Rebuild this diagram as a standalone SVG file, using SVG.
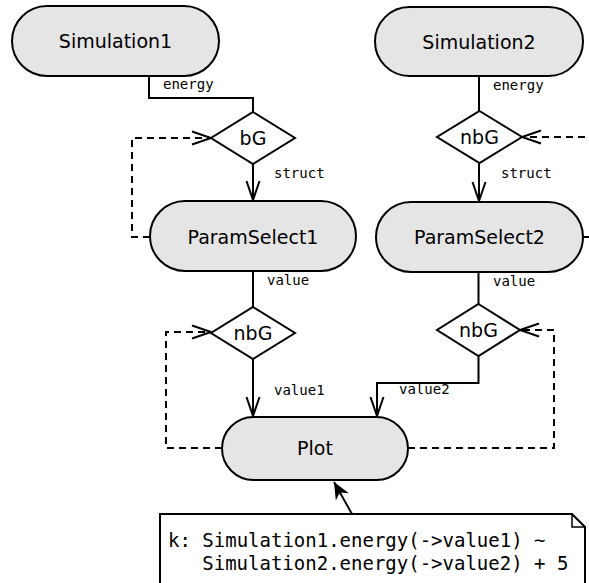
<svg xmlns="http://www.w3.org/2000/svg" width="589" height="583" viewBox="0 0 589 583">
<style>
.node{fill:#e5e5e5;stroke:#000;stroke-width:2}
.dia{fill:#fff;stroke:#000;stroke-width:2}
.lbl{font-family:"DejaVu Sans",sans-serif;font-size:19px;text-anchor:middle;fill:#000}
.el{font-family:"DejaVu Sans Mono",monospace;font-size:14px;fill:#000}
.nt{font-family:"DejaVu Sans Mono",monospace;font-size:19px;fill:#000}
.c{fill:none;stroke:#000;stroke-width:2}
.d{fill:none;stroke:#000;stroke-width:2;stroke-dasharray:7,5}
</style>
<defs>
<marker id="open" markerUnits="userSpaceOnUse" orient="auto" overflow="visible" markerWidth="1" markerHeight="1" refX="0" refY="0">
<path d="M-19,-6.5 L0,0 L-19,6.5" fill="none" stroke="#000" stroke-width="2" stroke-dasharray="none"/>
</marker>
<marker id="fill" markerUnits="userSpaceOnUse" orient="auto" overflow="visible" markerWidth="1" markerHeight="1" refX="0" refY="0">
<path d="M0,0 L-17,-7.5 L-12,0 L-17,7.5 Z" fill="#000" stroke="none"/>
</marker>
</defs>
<g id="connectors">
<path class="c" d="M149,76 V98 H253 V112"/>
<path class="c" d="M253,164 V200" marker-end="url(#open)"/>
<path class="c" d="M479,76 V111"/>
<path class="c" d="M479,162 V201" marker-end="url(#open)"/>
<path class="c" d="M253,271 V307"/>
<path class="c" d="M253,359 V416" marker-end="url(#open)"/>
<path class="c" d="M478.5,272 V304"/>
<path class="c" d="M478.5,356 V383 H377 V416" marker-end="url(#open)"/>
<path class="d" d="M150,237 H132 V138 H211" marker-end="url(#open)"/>
<path class="d" d="M583,237 H600 V137 H522" marker-end="url(#open)"/>
<path class="d" d="M222,448 H166 V332 H211" marker-end="url(#open)"/>
<path class="d" d="M408,448 H554 V330 H520" marker-end="url(#open)"/>
<path class="c" d="M352,514 L334,482" marker-end="url(#fill)"/>
<text class="el" x="163" y="89">energy</text>
<text class="el" x="493" y="90">energy</text>
<text class="el" x="274" y="178">struct</text>
<text class="el" x="501" y="178">struct</text>
<text class="el" x="267" y="285">value</text>
<text class="el" x="493" y="286">value</text>
<text class="el" x="274" y="395">value1</text>
<text class="el" x="399" y="394">value2</text>
</g>
<g id="Simulation1">
<rect class="node" x="12" y="6" width="207" height="70" rx="35"/>
<text class="lbl" x="115.5" y="48">Simulation1</text>
</g>
<g id="Simulation2">
<rect class="node" x="375" y="7" width="208" height="69" rx="34.5"/>
<text class="lbl" x="479" y="48.5">Simulation2</text>
</g>
<g id="bG">
<polygon class="dia" points="253,112 295,138 253,164 211,138"/>
<text class="lbl" x="253" y="145">bG</text>
</g>
<g id="nbG_top">
<polygon class="dia" points="479.5,111 522,137 479.5,163 437,137"/>
<text class="lbl" x="479.5" y="144">nbG</text>
</g>
<g id="ParamSelect1">
<rect class="node" x="150" y="201" width="206" height="70" rx="35"/>
<text class="lbl" x="253" y="243.5">ParamSelect1</text>
</g>
<g id="ParamSelect2">
<rect class="node" x="376" y="202" width="207" height="70" rx="35"/>
<text class="lbl" x="479.5" y="244">ParamSelect2</text>
</g>
<g id="nbG1">
<polygon class="dia" points="253,307 295,333 253,359 211,333"/>
<text class="lbl" x="253" y="340">nbG</text>
</g>
<g id="nbG2">
<polygon class="dia" points="478.5,304 520,330 478.5,356 437,330"/>
<text class="lbl" x="478.5" y="337">nbG</text>
</g>
<g id="Plot">
<rect class="node" x="222" y="417" width="186" height="63" rx="31.5"/>
<text class="lbl" x="315" y="455">Plot</text>
</g>
<g id="note">
<path d="M160,514 H572 L585,527 V600 H160 Z" fill="#fff" stroke="#000" stroke-width="2"/>
<path d="M572,514 V527 H585" fill="none" stroke="#000" stroke-width="1.5"/>
<text class="nt" x="168" y="547">k: Simulation1.energy(-&gt;value1) ~</text>
<text class="nt" x="202.3" y="570">Simulation2.energy(-&gt;value2) + 5</text>
</g>
</svg>
